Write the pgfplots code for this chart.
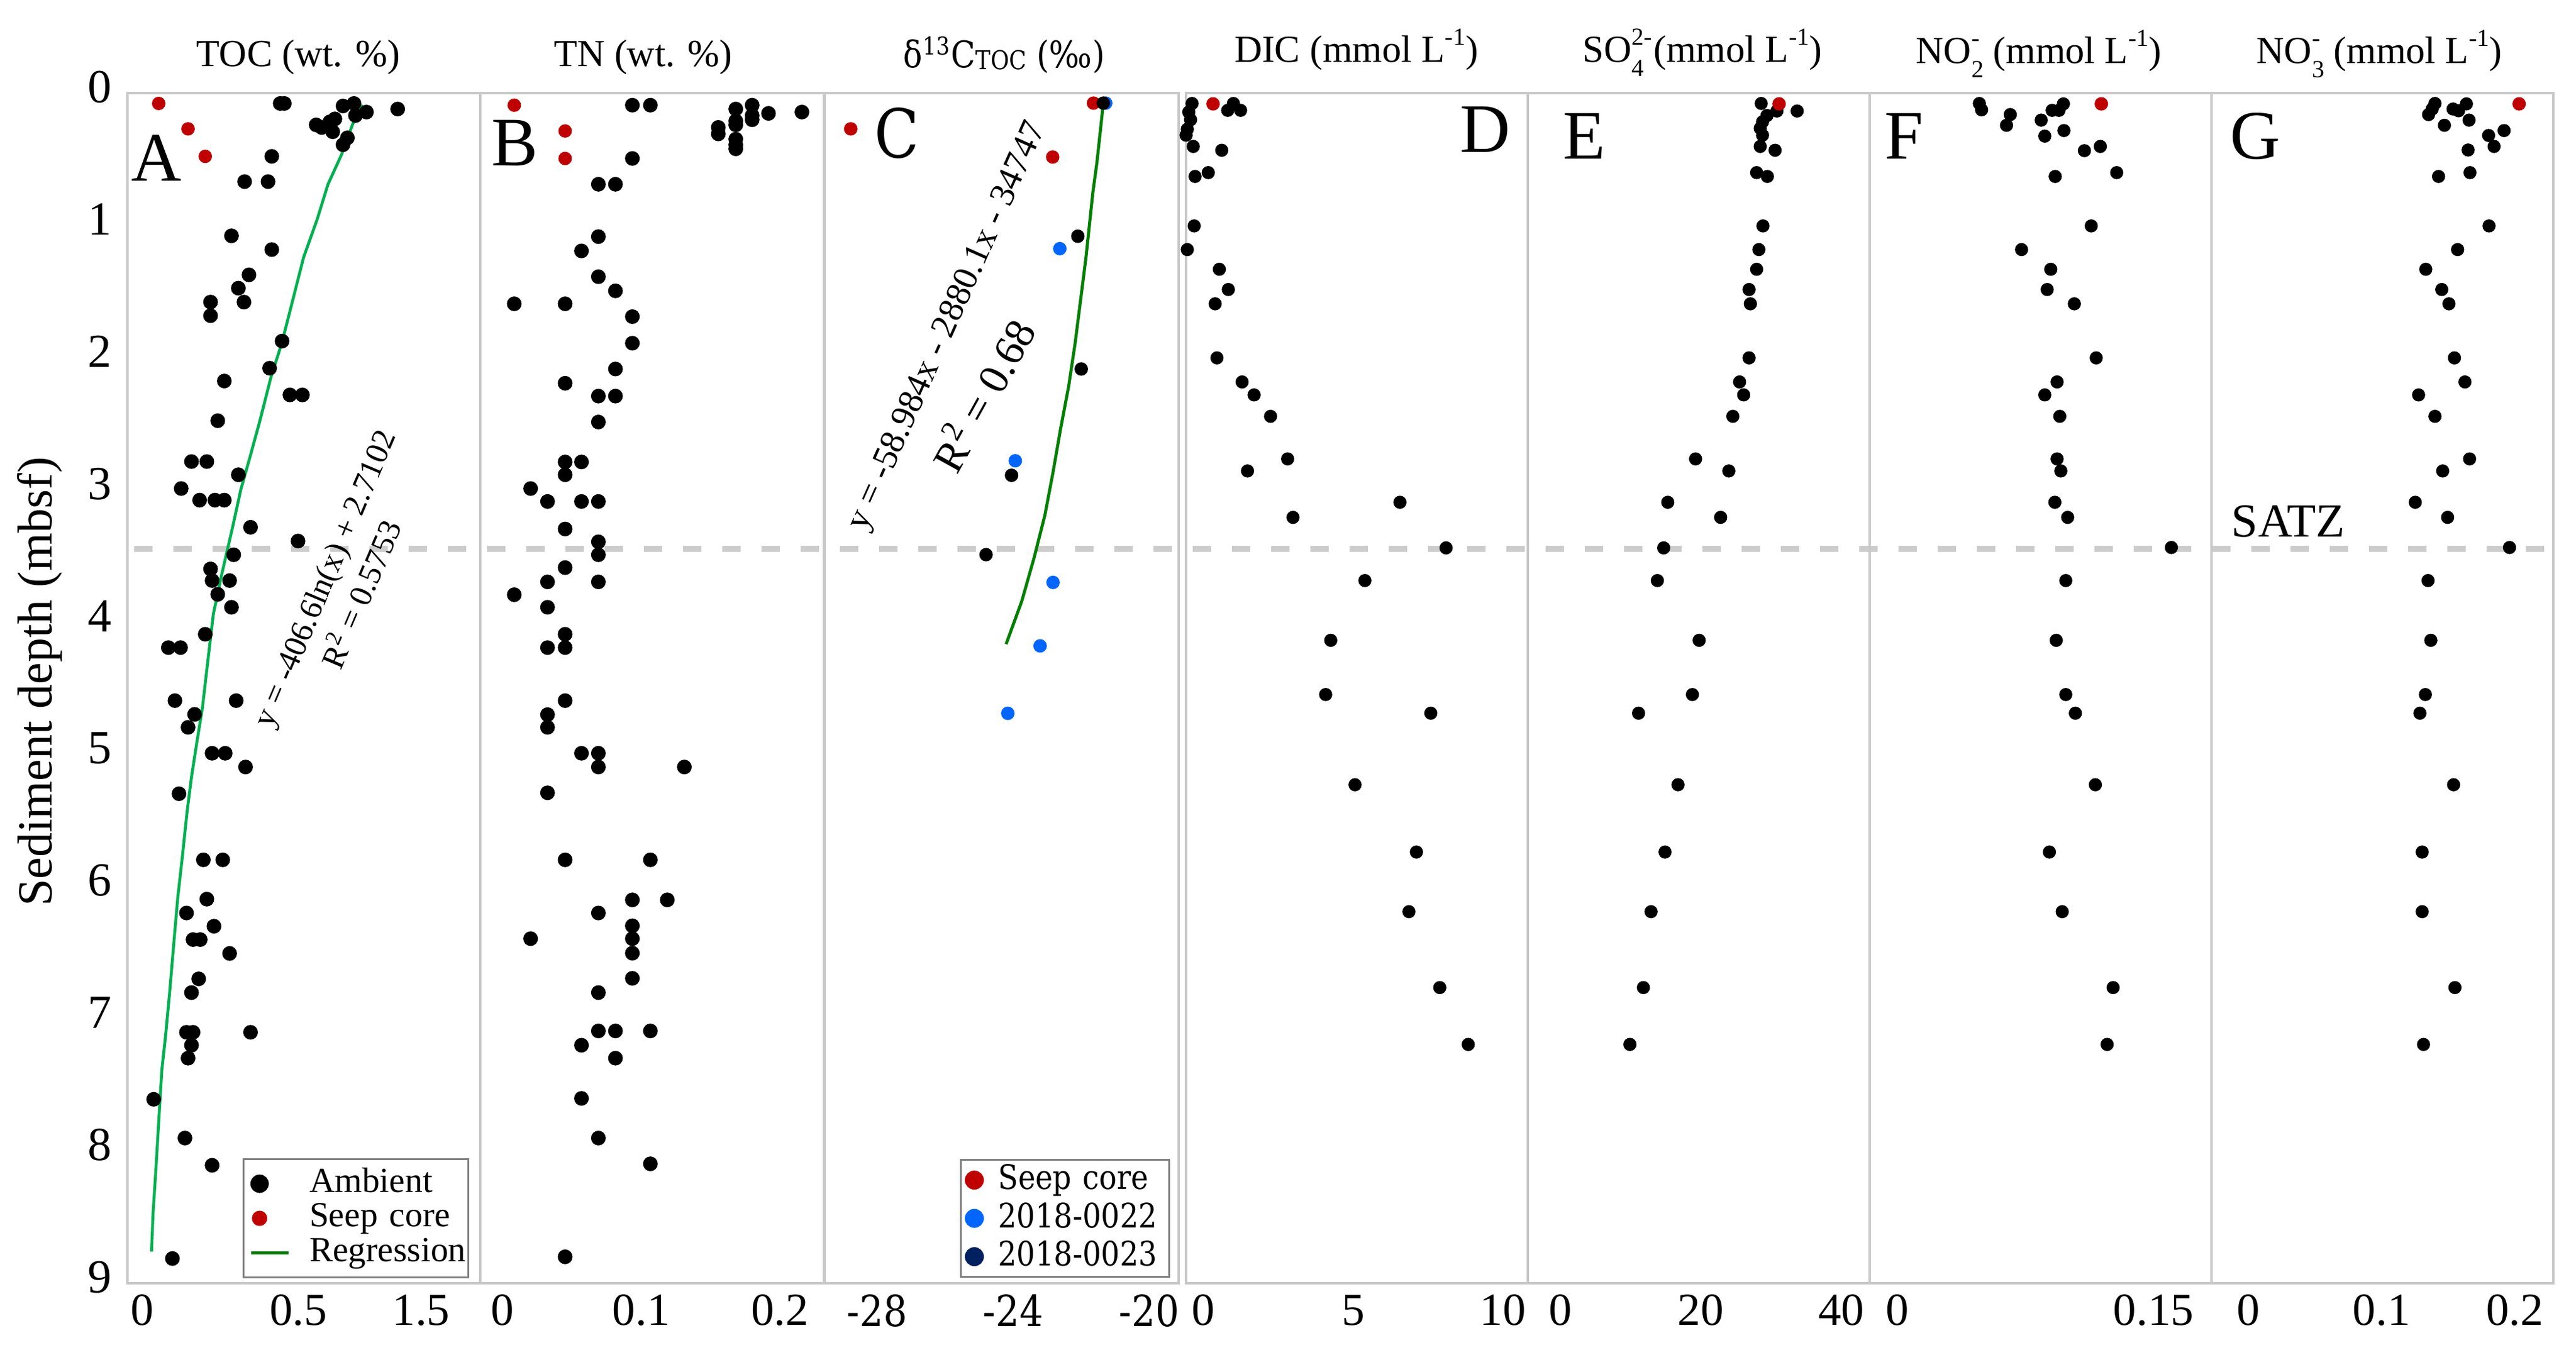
\documentclass[border=0pt]{standalone}
\usepackage{fontspec}
\setmainfont{Liberation Serif}
\newfontfamily\cfont[FakeStretch=0.87]{DejaVu Serif}
\usepackage{pgfplots}
\pgfplotsset{compat=1.18}
\definecolor{framegray}{RGB}{200,200,200}
\definecolor{dashgray}{RGB}{204,204,204}
\definecolor{seepred}{RGB}{192,0,0}
\definecolor{blue22}{RGB}{0,102,255}
\definecolor{navy23}{RGB}{0,32,96}
\definecolor{reggreen}{RGB}{0,176,80}
\definecolor{darkgreen}{RGB}{0,128,0}
\definecolor{leggray}{RGB}{128,128,128}
\newcommand{\fs}[1]{\fontsize{#1}{#1}\selectfont}
\newcommand{\sups}[1]{\raisebox{5.6pt}{\fs{8}#1}}
\newcommand{\supsub}[2]{\setbox0\hbox{\fs{8}#1}\setbox2\hbox{\fs{8}#2}%
  \ifdim\wd0>\wd2 \rlap{\raisebox{-4.6pt}{\box2}}\raisebox{5.6pt}{\box0}%
  \else\rlap{\raisebox{5.6pt}{\box0}}\raisebox{-4.6pt}{\box2}\fi}
\pgfplotsset{
  panel/.style={
    scale only axis, height=388.6pt, anchor=south west,
    ymin=0, ymax=9, y dir=reverse, ytick=\empty,
    axis line style={draw=framegray, line width=0.8pt},
    tick style={draw=none}, major tick length=0pt, minor tick num=0,
    scaled ticks=false,
    xticklabel style={font=\fs{15}, inner sep=0pt, anchor=north, yshift=-3.6pt},
  },
  blk/.style={only marks, mark=*, mark size=2.2pt, color=black},
  blks/.style={only marks, mark=*, mark size=1.95pt, color=black},
  seep/.style={only marks, mark=*, mark size=2.0pt, color=seepred},
  legmark/.style={legend image code/.code={\draw[##1] plot coordinates {(0pt,0pt)};}},
  legline/.style={legend image code/.code={\draw[##1] plot coordinates {(-2.7pt,0pt) (9.5pt,0pt)};}},
}
\begin{document}
\begin{tikzpicture}
\useasboundingbox (0,0) rectangle (841pt,-440.8pt);
\begin{scope}[x=0.2pt,y=-0.2pt]
\draw[dashgray, line width=2pt, dash pattern=on 6pt off 6.8pt] (219,896) -- (4168,896);
\end{scope}

% ---------- A: TOC ----------
\begin{axis}[panel, at={(41.6pt,-419pt)}, width=115.2pt,
  xmin=-0.0471, xmax=1.0824,
  xtick={0,0.5,0.893}, xticklabels={0,0.5,1.5},
  ytick={0,1,2,3,4,5,6,7,8,9}, yticklabels={0,1,2,3,4,5,6,7,8,9},
  yticklabel style={font=\fs{15.5}, inner sep=0pt, anchor=east, xshift=-5pt, yshift=2pt},
  legend cell align=left,
  legend style={at={(0.96875,0.0041)}, anchor=south east, draw=leggray, line width=0.6pt,
    font=\fs{11.5}, inner xsep=1.9pt, inner ysep=2.75pt, row sep=0.8pt,
    nodes={inner sep=0pt, text height=8pt, text depth=2.5pt, text width=50pt, align=left},
    /tikz/every odd column/.append style={column sep=6.2pt}},
]
\addplot[blk, forget plot] coordinates {
(0.442,0.078)(0.455,0.078)(0.678,0.078)(0.643,0.097)(0.818,0.12)(0.718,0.143)(0.683,0.169)
(0.617,0.195)(0.601,0.217)(0.557,0.24)(0.575,0.26)(0.61,0.292)(0.657,0.338)(0.643,0.39)
(0.415,0.478)(0.328,0.669)(0.403,0.669)(0.286,1.079)(0.415,1.183)(0.342,1.374)(0.308,1.475)
(0.326,1.58)(0.219,1.58)(0.219,1.683)(0.448,1.875)(0.408,2.08)(0.263,2.177)(0.473,2.282)
(0.513,2.282)(0.242,2.477)(0.158,2.786)(0.207,2.786)(0.308,2.886)(0.125,2.99)(0.184,3.078)
(0.233,3.078)(0.263,3.078)(0.347,3.283)(0.499,3.387)(0.293,3.491)(0.219,3.598)(0.224,3.686)
(0.280,3.686)(0.242,3.79)(0.286,3.888)(0.202,4.092)(0.084,4.193)(0.123,4.193)(0.105,4.594)
(0.301,4.594)(0.168,4.698)(0.147,4.796)(0.224,4.992)(0.266,4.992)(0.331,5.096)(0.118,5.298)
(0.196,5.798)(0.258,5.798)(0.207,6.095)(0.142,6.2)(0.23,6.3)(0.163,6.401)(0.186,6.401)
(0.28,6.506)(0.181,6.698)(0.158,6.802)(0.142,7.102)(0.163,7.102)(0.347,7.102)(0.158,7.2)
(0.147,7.298)(0.037,7.609)(0.137,7.902)(0.224,8.108)(0.097,8.813)};
\addplot[seep, forget plot] coordinates {(0.053,0.078)(0.147,0.27)(0.202,0.478)};
\addplot[reggreen, line width=0.95pt, forget plot] coordinates {
(0.704,0.087)(0.674,0.234)(0.639,0.461)(0.595,0.689)(0.561,0.949)(0.517,1.241)(0.482,1.566)
(0.447,1.891)(0.412,2.151)(0.377,2.477)(0.347,2.737)(0.316,2.997)(0.289,3.289)(0.254,3.647)
(0.228,3.939)(0.207,4.362)(0.193,4.649)(0.175,4.911)(0.158,5.171)(0.144,5.432)(0.128,5.791)
(0.114,6.085)(0.102,6.411)(0.088,6.802)(0.075,7.129)(0.063,7.39)(0.053,7.782)(0.044,8.141)
(0.035,8.467)(0.030,8.761)};
\addlegendimage{legmark, only marks, mark=*, mark size=2.7pt, black}
\addlegendentry{Ambient}
\addlegendimage{legmark, only marks, mark=*, mark size=2.2pt, seepred}
\addlegendentry{Seep core}
\addlegendimage{legline, darkgreen, line width=1.1pt}
\addlegendentry{Regression}
\end{axis}

% ---------- B: TN ----------
\begin{axis}[panel, at={(156.8pt,-419pt)}, width=112.2pt,
  xmin=-0.0161, xmax=0.2318,
  xtick={0,0.1,0.2}, xticklabels={0,0.1,0.2}]
\addplot[blk] coordinates {
(0.0936,0.091)(0.1066,0.091)(0.18,0.091)(0.1682,0.12)(0.2159,0.143)(0.1918,0.153)(0.18,0.169)
(0.18,0.201)(0.1682,0.21)(0.1682,0.24)(0.1556,0.259)(0.1556,0.308)(0.1682,0.348)(0.1682,0.39)
(0.1682,0.421)
(0.0936,0.494)(0.0691,0.689)(0.0814,0.689)(0.0691,1.085)(0.0569,1.193)(0.0691,1.388)
(0.0814,1.495)(0.0084,1.593)(0.0451,1.593)(0.0936,1.69)(0.0936,1.891)(0.0814,2.086)
(0.0451,2.194)(0.0691,2.291)(0.0814,2.291)(0.0691,2.487)(0.0451,2.789)(0.0569,2.789)
(0.0451,2.886)(0.0202,2.99)(0.0324,3.088)(0.0569,3.088)(0.0691,3.088)(0.0451,3.296)
(0.0691,3.393)(0.0691,3.491)(0.0451,3.588)(0.0324,3.696)(0.0691,3.696)(0.0084,3.793)
(0.0324,3.888)(0.0451,4.092)(0.0324,4.193)(0.0451,4.193)(0.0451,4.594)(0.0324,4.7)
(0.0324,4.796)(0.0569,4.992)(0.0691,4.992)(0.0691,5.096)(0.1311,5.096)(0.0324,5.291)
(0.0451,5.798)(0.1066,5.798)(0.0936,6.101)(0.1188,6.101)(0.0691,6.2)(0.0936,6.297)
(0.0936,6.394)(0.0936,6.504)(0.0202,6.394)(0.0936,6.694)(0.0691,6.802)(0.0691,7.092)
(0.0814,7.092)(0.1066,7.092)(0.0569,7.2)(0.0814,7.298)(0.0569,7.602)(0.0691,7.902)
(0.1066,8.097)(0.0451,8.8)};
\addplot[seep] coordinates {(0.0084,0.091)(0.0451,0.286)(0.0451,0.494)};
\end{axis}

% ---------- C: d13C ----------
\begin{axis}[panel, at={(269.2pt,-419pt)}, width=115.6pt,
  xmin=-29.55, xmax=-19.135,
  xtick={-28,-24,-20}, xticklabels={-28,-24,-20},
  xticklabel style={font=\cfont\fs{14}},
  legend cell align=left,
  legend style={at={(0.9758,0.0046)}, anchor=south east, draw=leggray, line width=0.6pt,
    font=\cfont\fs{11}, inner xsep=1.6pt, inner ysep=1.1pt, row sep=1.5pt,
    nodes={inner sep=0pt, text height=8.5pt, text depth=2.5pt, text width=54.2pt, align=left},
    /tikz/every odd column/.append style={column sep=5pt}},
]
\addplot[only marks, mark=*, mark size=2pt, color=blue22, forget plot] coordinates {
(-21.28,0.0755)(-22.63,1.176)(-23.94,2.78)(-22.83,3.70)(-23.21,4.18)(-24.16,4.69)};
\addplot[seep, forget plot] coordinates {(-28.78,0.27)(-21.64,0.0755)(-22.84,0.483)};
\addplot[only marks, mark=*, mark size=2pt, color=black, forget plot] coordinates {
(-21.35,0.0755)(-22.1,1.082)(-22.0,2.086)(-24.05,2.89)(-24.8,3.49)};
\addplot[darkgreen, line width=1pt, forget plot] coordinates {
(-21.36,0.097)(-21.43,0.266)(-21.54,0.526)(-21.66,0.754)(-21.86,1.241)(-22.18,1.891)
(-22.37,2.216)(-22.61,2.542)(-22.83,2.867)(-23.07,3.192)(-23.39,3.517)(-23.75,3.842)
(-24.21,4.167)};
\addlegendimage{legmark, only marks, mark=*, mark size=2.8pt, seepred}
\addlegendentry{Seep core}
\addlegendimage{legmark, only marks, mark=*, mark size=2.8pt, blue22}
\addlegendentry{2018-0022}
\addlegendimage{legmark, only marks, mark=*, mark size=2.8pt, navy23}
\addlegendentry{2018-0023}
\end{axis}

% ---------- D: DIC ----------
\begin{axis}[panel, at={(387.2pt,-419pt)}, width=111.6pt,
  xmin=-0.583, xmax=10.83,
  xtick={0,5,10}, xticklabels={0,5,10}]
\addplot[blks] coordinates {
(-0.38,0.078)(-0.49,0.143)(-0.43,0.201)(-0.61,0.24)(-0.54,0.273)(-0.58,0.318)(1.0,0.078)
(0.81,0.13)(1.24,0.13)(-0.34,0.403)(0.61,0.432)(-0.28,0.63)(0.16,0.601)(-0.31,1.004)
(-0.54,1.183)(0.53,1.332)(0.83,1.485)(0.39,1.593)(0.45,2.002)(1.29,2.184)(1.69,2.282)
(2.24,2.444)(2.81,2.766)(1.47,2.857)(6.56,3.094)(2.99,3.208)(8.10,3.439)(5.39,3.686)
(4.25,4.138)(4.08,4.548)(7.59,4.689)(5.06,5.23)(7.11,5.739)(6.86,6.19)(7.89,6.764)(8.84,7.194)};
\addplot[seep] coordinates {(0.32,0.081)};
\end{axis}

% ---------- E: SO4 ----------
\begin{axis}[panel, at={(498.8pt,-419pt)}, width=111.6pt,
  xmin=-4.64, xmax=44.05,
  xtick={0,20,40}, xticklabels={0,20,40}]
\addplot[blks] coordinates {
(28.6,0.078)(33.72,0.135)(30.84,0.135)(29.42,0.169)(28.79,0.217)(28.46,0.266)(28.79,0.318)
(28.46,0.403)(30.58,0.432)(27.95,0.601)(29.48,0.63)(28.85,1.004)(28.27,1.183)(27.95,1.332)
(26.87,1.485)(27.06,1.593)(26.87,2.002)(25.52,2.184)(26.1,2.282)(24.56,2.444)(19.25,2.766)
(23.99,2.857)(15.29,3.094)(22.82,3.208)(14.71,3.439)(13.81,3.686)(19.76,4.138)(18.8,4.548)
(11.13,4.689)(16.75,5.23)(14.9,5.739)(12.91,6.19)(11.82,6.764)(9.9,7.194)};
\addplot[seep] coordinates {(31.15,0.081)};
\end{axis}

% ---------- F: NO2 ----------
\begin{axis}[panel, at={(610.4pt,-419pt)}, width=111.6pt,
  xmin=-0.0162, xmax=0.1839,
  xtick={0,0.15}, xticklabels={0,0.15}]
\addplot[blks] coordinates {
(0.048,0.078)(0.0493,0.126)(0.0661,0.162)(0.0639,0.243)(0.0842,0.204)(0.0906,0.13)(0.0946,0.13)
(0.0972,0.081)(0.0863,0.325)(0.0975,0.283)(0.1095,0.435)(0.1188,0.403)(0.1284,0.601)
(0.0924,0.63)(0.1135,1.004)(0.0727,1.183)(0.0898,1.332)(0.0877,1.485)(0.1036,1.593)
(0.1164,2.002)(0.0935,2.184)(0.0863,2.282)(0.0951,2.444)(0.0935,2.766)(0.0957,2.857)
(0.0922,3.094)(0.0997,3.208)(0.1604,3.436)(0.0986,3.686)(0.093,4.138)(0.0986,4.548)
(0.1042,4.689)(0.1159,5.23)(0.089,5.739)(0.0965,6.19)(0.1263,6.764)(0.1228,7.194)};
\addplot[seep] coordinates {(0.1194,0.081)};
\end{axis}

% ---------- G: NO3 ----------
\begin{axis}[panel, at={(722pt,-419pt)}, width=111.6pt,
  xmin=-0.0278, xmax=0.2289,
  xtick={0,0.1,0.2}, xticklabels={0,0.1,0.2}]
\addplot[blks] coordinates {
(0.140,0.078)(0.1379,0.12)(0.1352,0.162)(0.1536,0.12)(0.1577,0.133)(0.1636,0.081)(0.1656,0.204)
(0.1471,0.243)(0.1803,0.32)(0.1919,0.283)(0.1844,0.403)(0.1649,0.43)(0.1663,0.601)
(0.1427,0.63)(0.1806,1.004)(0.157,1.183)(0.1331,1.332)(0.1451,1.485)(0.1505,1.593)
(0.1546,2.002)(0.1625,2.184)(0.1277,2.282)(0.14,2.444)(0.166,2.766)(0.1458,2.857)
(0.1252,3.094)(0.1495,3.208)(0.196,3.436)(0.1348,3.686)(0.1369,4.138)(0.1328,4.548)
(0.1287,4.689)(0.154,5.23)(0.1304,5.739)(0.1304,6.19)(0.155,6.764)(0.1314,7.194)};
\addplot[seep] coordinates {(0.2032,0.081)};
\end{axis}

% ---------- texts ----------
\begin{scope}[x=0.2pt,y=-0.2pt]
\node[rotate=90, font=\fs{16}] at (65,1113) {Sediment depth (mbsf)};
\node[anchor=base, font=\fs{12.5}] at (487,109) {TOC (wt. \%)};
\node[anchor=base, font=\fs{12.5}] at (1050,109) {TN (wt. \%)};
\node[anchor=base, font=\cfont\fs{12}] at (1639,111) {δ\textsuperscript{13}C\raisebox{-0.6pt}{\fs{8.5}TOC} (‰)};
\node[anchor=base, font=\fs{12.5}] at (2214,102) {DIC (mmol L\sups{-1})};
\node[anchor=base, font=\fs{12.5}] at (2779,102) {SO\supsub{2-}{4}\kern0.5pt(mmol L\sups{-1})};
\node[anchor=base, font=\fs{12.5}] at (3328,104) {NO\supsub{-}{2} (mmol L\sups{-1})};
\node[anchor=base, font=\fs{12.5}] at (3884,104) {NO\supsub{-}{3} (mmol L\sups{-1})};
\node[anchor=base west, inner sep=0pt, font=\fs{22.7}] at (214,296) {A};
\node[anchor=base west, inner sep=0pt, font=\fs{22.7}] at (802,271) {B};
\node[anchor=base west, inner sep=0pt, font=\cfont\fs{22}] at (1427,258) {C};
\node[anchor=base west, inner sep=0pt, font=\fs{22.7}] at (2383,249) {D};
\node[anchor=base west, inner sep=0pt, font=\fs{22.7}] at (2551,260) {E};
\node[anchor=base west, inner sep=0pt, font=\fs{22.7}] at (3076,260) {F};
\node[anchor=base west, inner sep=0pt, font=\fs{22.7}] at (3640,260) {G};
\node[anchor=base west, inner sep=0pt, font=\fs{15.5}] at (3642,877) {SATZ};
\node[rotate=67, font=\fs{10.5}] at (534,946) {y = -406.6ln(x) + 2.7102};
\node[rotate=67, font=\fs{10.5}] at (587,969) {R\textsuperscript{2} = 0.5753};
\node[rotate=66, font=\fs{11.5}] at (1548,533) {y = -58.984x - 2880.1x - 34747};
\node[rotate=61, font=\fs{14}] at (1603,644) {R\textsuperscript{2} = 0.68};
\end{scope}
\end{tikzpicture}
\end{document}
